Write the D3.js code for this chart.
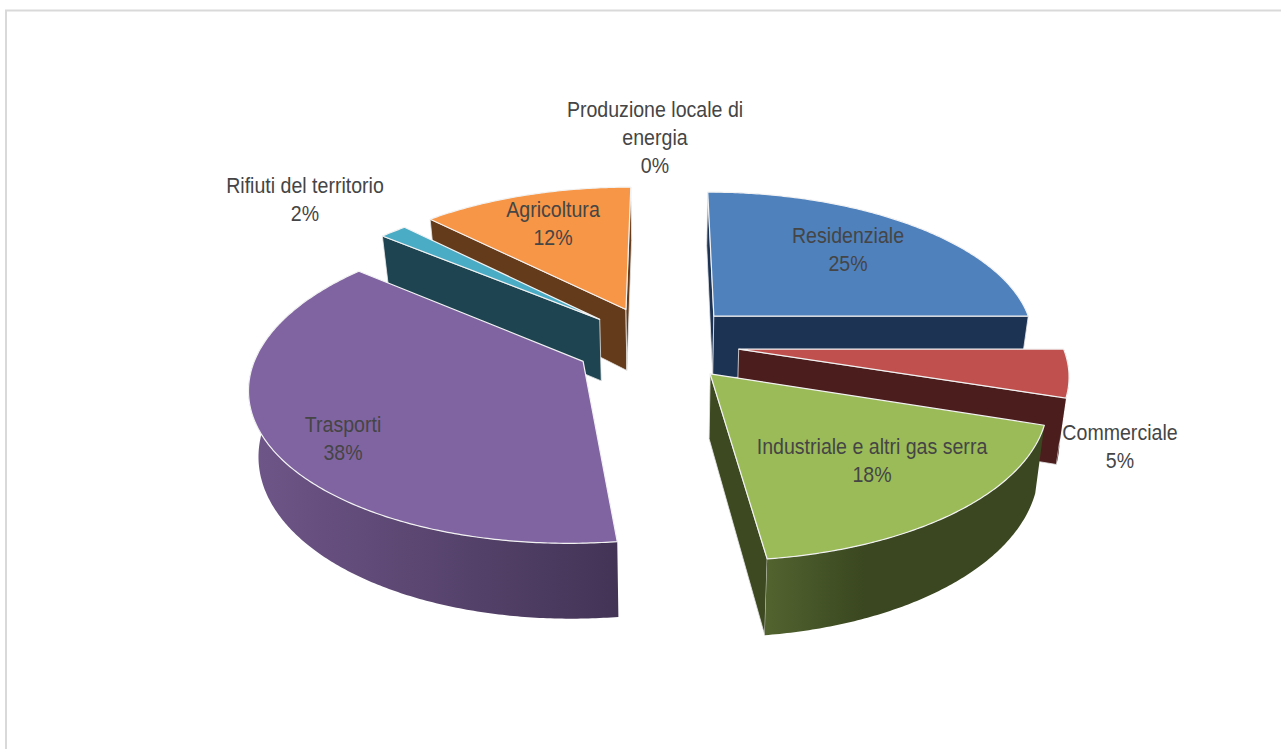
<!DOCTYPE html>
<html><head><meta charset="utf-8">
<script src="https://cdn.jsdelivr.net/npm/d3@7/dist/d3.min.js"></script>
<style>html,body{margin:0;padding:0;background:#fff;overflow:hidden}svg{display:block}
text{font-family:"Liberation Sans",Arial,sans-serif;font-size:22px;fill:#454545}</style>
</head><body><svg id="c" width="1281" height="749"></svg>
<script>
const categories=["Residenziale","Commerciale","Industriale e altri gas serra","Trasporti","Rifiuti del territorio","Agricoltura","Produzione locale di energia"];
const values=[25,5,18,38,1.6,12.4,0];
const topColors=["#4f81bd","#c0504d","#9bbb59","#8064a2","#4bacc6","#f79646","#888888"];
const wallColors=["#1d3354","#4b1d1c","#3d4a21","#4f3d66","#1d4450","#643b1b","#444444"];
const wallLight=["#1d3354","#4b1d1c","#52632f","#6f5689","#1d4450","#643b1b","#444444"];
const wallDark=["#1d3354","#4b1d1c","#3a4720","#433456","#1d4450","#643b1b","#444444"];
const wallDarkStop=[1,1,0.35,1,1,1,1];
const explosions=[0.262,0.26,0.26,0.25,0.24,0.25,0.25];
const drawOrder=[0,5,4,1,3,2];
const labelLines=[["Residenziale","25%"],["Commerciale","5%"],["Industriale e altri gas serra","18%"],["Trasporti","38%"],["Rifiuti del territorio","2%"],["Agricoltura","12%"],["Produzione locale di","energia","0%"]];
const labelX=[848,1120,872,343,305,553,655];
const labelY=[236,433,447,425,186,210,110];

const X0=665,Yh=-677,A=323,Uc=-0.03,C=1020,D=63,K=0.1465,S=0.976,textSqueeze=0.89;
const svg=d3.select("#c");
svg.append("path").attr("d","M6 749V10.5H1281").attr("fill","none").attr("stroke","#d9d9d9").attr("stroke-width",2);
const arcs=d3.pie().sort(null).value(d=>d).startAngle(0).endAngle(2*Math.PI)(values);
const defs=svg.append("defs");
const line=d3.line();

function project(U,V,bottom){
  const W=1+K*V;
  const x=A*(U+Uc)/W;
  return bottom?[X0+x*S,Yh+(C+D)/W]:[X0+x,Yh+C/W];
}
function rimPoints(a,ex){
  const mid=(a.startAngle+a.endAngle)/2;
  const ou=ex*Math.sin(mid),ov=ex*Math.cos(mid);
  const n=Math.max(2,Math.ceil((a.endAngle-a.startAngle)/0.01));
  return d3.range(n+1).map(i=>{
    const t=a.startAngle+(a.endAngle-a.startAngle)*i/n;
    return [ou+Math.sin(t),ov+Math.cos(t),t];
  });
}
function apex(a,ex){const mid=(a.startAngle+a.endAngle)/2;return [ex*Math.sin(mid),ex*Math.cos(mid)];}
const P=(p,b)=>project(p[0],p[1],b);

drawOrder.forEach(i=>{
  const a=arcs[i],ex=explosions[i];
  if(a.value===0)return;
  const g=svg.append("g").attr("class","slice");
  const rim=rimPoints(a,ex),c=apex(a,ex);
  const first=rim[0],last=rim[rim.length-1];
  const wall=(pts,fill)=>g.append("path").attr("d",line(pts)+"Z").attr("fill",fill).attr("stroke","#e8e8e8").attr("stroke-width",0.8).attr("stroke-linejoin","round");
  // cut faces: only those turned towards the viewer
  const startFace=[P(c),P(first),P(first,1),P(c,1)],endFace=[P(c),P(last),P(last,1),P(c,1)];
  if(d3.polygonArea(startFace)>0)wall(startFace,wallColors[i]);
  if(d3.polygonArea(endFace)<0)wall(endFace,wallColors[i]);
  // outer wall, with the horizontal shading seen on the front faces
  const topRim=rim.map(p=>P(p));
  const front=d3.range(rim.length).filter(j=>rim[j][2]>Math.PI/2&&rim[j][2]<3*Math.PI/2);
  if(front.length>1){
    const t=front.map(j=>topRim[j]),b=front.map(j=>P(rim[j],1)).reverse();
    const ext=d3.extent(t,d=>d[0]);
    const id="w"+i;
    const gr=defs.append("linearGradient").attr("id",id).attr("gradientUnits","userSpaceOnUse").attr("x1",ext[0]).attr("x2",ext[1]).attr("y1",0).attr("y2",0);
    gr.append("stop").attr("offset",0).attr("stop-color",wallLight[i]);
    gr.append("stop").attr("offset",wallDarkStop[i]).attr("stop-color",wallDark[i]);
    g.append("path").attr("d",line(t.concat(b))+"Z").attr("fill",`url(#${id})`);
  }
  // top face
  g.append("path").attr("d",line([P(c)].concat(topRim))+"Z").attr("fill",topColors[i]).attr("stroke","#f2f2f2").attr("stroke-width",1.2).attr("stroke-linejoin","round");
});

labelLines.forEach((lines,i)=>{
  lines.forEach((s,j)=>svg.append("text").attr("text-anchor","middle")
    .attr("transform",`translate(${labelX[i]},${labelY[i]+7+j*28}) scale(${textSqueeze},1)`).text(s));
});
</script></body></html>
